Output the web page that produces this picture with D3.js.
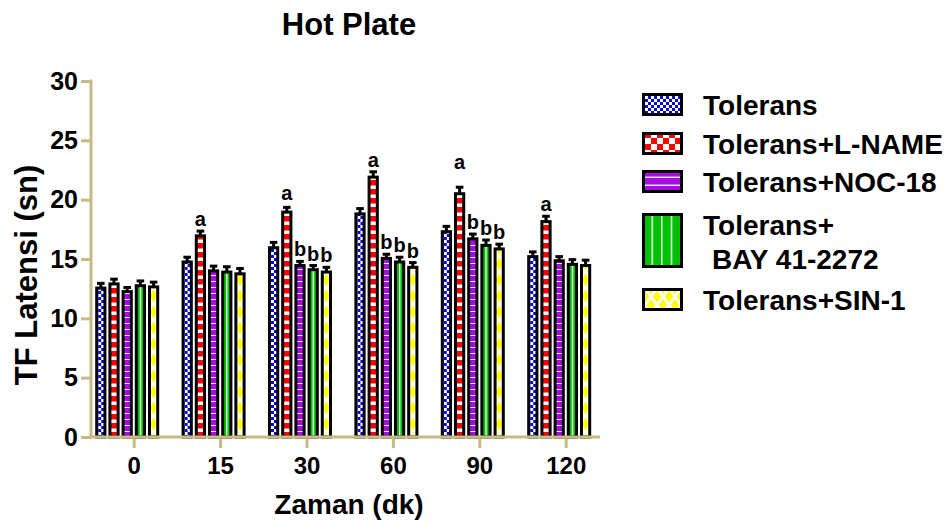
<!DOCTYPE html>
<html>
<head>
<meta charset="utf-8">
<script src="https://cdn.jsdelivr.net/npm/d3@7"></script>
<style>
  html, body { margin: 0; padding: 0; background: #ffffff; }
  svg { display: block; }
  text { font-family: "Liberation Sans", Arial, Helvetica, sans-serif; font-weight: bold; fill: #000; }
</style>
</head>
<body>
<svg id="chart" width="950" height="525"></svg>
<script>
// Time points (minutes) and group names
const timePoints = ["0", "15", "30", "60", "90", "120"];
const seriesNames = ["Tolerans", "Tolerans+L-NAME", "Tolerans+NOC-18", "Tolerans+\nBAY 41-2272", "Tolerans+SIN-1"];

// Tail-flick latency means (s) per group
const tolerans = [12.55, 14.75, 15.95, 18.8, 17.3, 15.2];
const lName    = [12.9, 16.95, 18.95, 21.9, 20.5, 18.15];
const noc18    = [12.25, 14.0, 14.45, 15.05, 16.7, 14.85];
const bay      = [12.75, 13.9, 14.1, 14.75, 16.15, 14.55];
const sin1     = [12.65, 13.75, 13.9, 14.3, 15.85, 14.45];

// Standard errors
const tolErr  = [0.4, 0.4, 0.45, 0.45, 0.45, 0.4];
const lnErr   = [0.4, 0.4, 0.4, 0.45, 0.55, 0.45];
const nocErr  = [0.35, 0.4, 0.35, 0.35, 0.4, 0.35];
const bayErr  = [0.4, 0.45, 0.35, 0.4, 0.45, 0.4];
const sinErr  = [0.4, 0.45, 0.4, 0.4, 0.4, 0.45];

const yTicks = [0, 5, 10, 15, 20, 25, 30];

// Significance marks: [time point, series index, letter]
const sigMarks = [
  ["15", 1, "a"],
  ["30", 1, "a"], ["30", 2, "b"], ["30", 3, "b"], ["30", 4, "b"],
  ["60", 1, "a"], ["60", 2, "b"], ["60", 3, "b"], ["60", 4, "b"],
  ["90", 1, "a"], ["90", 2, "b"], ["90", 3, "b"], ["90", 4, "b"],
  ["120", 1, "a"]
];

const values = [tolerans, lName, noc18, bay, sin1];
const errors = [tolErr, lnErr, nocErr, bayErr, sinErr];

const axisColor = "#c9ba84";
const svg = d3.select("#chart");

const y = d3.scaleLinear().domain([0, 30]).range([437, 81]);
const x0 = d3.scaleBand().domain(timePoints).range([91, 609.4]).padding(0);
const x1 = d3.scaleBand().domain(d3.range(seriesNames.length)).range([-39, 25]).paddingInner(0.15).paddingOuter(0);
const bw = x1.bandwidth();

// ---------- fill patterns ----------
const defs = svg.append("defs");
function pat(id, w, h, build, px) {
  const p = defs.append("pattern").attr("id", id).attr("patternUnits", "userSpaceOnUse")
    .attr("width", w).attr("height", h).attr("x", px || 0).attr("y", 0);
  build(p);
}
function checker(p, s, col) {
  p.append("rect").attr("width", 2 * s).attr("height", 2 * s).attr("fill", "#fff");
  p.append("rect").attr("width", s).attr("height", s).attr("fill", col);
  p.append("rect").attr("x", s).attr("y", s).attr("width", s).attr("height", s).attr("fill", col);
}
const blue = "#0a0ad8", red = "#ff0000", purple = "#a60ee0", green = "#00c000", yellow = "#ffff00";

// bar patterns (origin at each bar's left edge)
pat("barTol", 6, 6, p => checker(p, 3, blue));
pat("barLn", 20, 9, p => {
  p.append("rect").attr("width", 20).attr("height", 9).attr("fill", "#fff");
  p.append("rect").attr("width", 20).attr("height", 5.5).attr("fill", red);
});
pat("barNoc", 20, 6, p => {
  p.append("rect").attr("width", 20).attr("height", 6).attr("fill", purple);
  p.append("rect").attr("y", 5).attr("width", 20).attr("height", 1.1).attr("fill", "#fff");
});
pat("barBay", 40, 10, p => {
  p.append("rect").attr("width", 40).attr("height", 10).attr("fill", green);
  p.append("rect").attr("x", bw / 2 - 0.6).attr("width", 1.3).attr("height", 10).attr("fill", "#fff");
});
pat("barSin", 40, 16, p => {
  const c = bw / 2;
  p.append("rect").attr("width", 40).attr("height", 16).attr("fill", "#fff");
  p.append("path").attr("d", `M${c},1 L${c + 3.4},8 L${c},15 L${c - 3.4},8 Z`).attr("fill", yellow);
  p.append("path").attr("d", `M${c - 6},0 L${c - 2.2},0 L${c - 6},6 Z M${c + 6},0 L${c + 2.2},0 L${c + 6},6 Z M${c - 6},16 L${c - 2.2},16 L${c - 6},10 Z M${c + 6},16 L${c + 2.2},16 L${c + 6},10 Z`).attr("fill", yellow);
});

// legend patterns (origin at each swatch's left edge)
pat("legTol", 6, 6, p => checker(p, 3, blue), 3);
pat("legLn", 12, 12, p => checker(p, 6, red), 3);
pat("legNoc", 20, 8, p => {
  p.append("rect").attr("width", 20).attr("height", 8).attr("fill", purple);
  p.append("rect").attr("y", 6.6).attr("width", 20).attr("height", 1.3).attr("fill", "#fff");
});
pat("legBay", 9.6, 10, p => {
  p.append("rect").attr("width", 9.6).attr("height", 10).attr("fill", green);
  p.append("rect").attr("x", 0).attr("width", 1.4).attr("height", 10).attr("fill", "#fff");
}, 9.5);
pat("legSin", 12, 17, p => {
  p.append("rect").attr("width", 12).attr("height", 17).attr("fill", yellow);
  p.append("path").attr("d", "M0,0 L12,17 M12,0 L0,17").attr("stroke", "#fff").attr("stroke-width", 3);
}, 3);

const barFills = ["url(#barTol)", "url(#barLn)", "url(#barNoc)", "url(#barBay)", "url(#barSin)"];
const legFills = ["url(#legTol)", "url(#legLn)", "url(#legNoc)", "url(#legBay)", "url(#legSin)"];

// ---------- title ----------
svg.append("text").attr("x", 349).attr("y", 35).attr("text-anchor", "middle")
  .style("font-size", "31px").text("Hot Plate");

// ---------- axes ----------
const yAxis = svg.append("g").attr("transform", "translate(91,0)")
  .call(d3.axisLeft(y).tickValues(yTicks).tickSize(10).tickSizeOuter(0).tickPadding(3));
yAxis.select(".domain").remove();
yAxis.selectAll(".tick line").attr("stroke", axisColor).attr("stroke-width", 3);
yAxis.selectAll(".tick text").style("font-size", "25px").style("font-family", null).attr("fill", "#000");

const xAxis = svg.append("g").attr("transform", "translate(0,437)")
  .call(d3.axisBottom(x0).tickSize(11).tickSizeOuter(0).tickPadding(9));
xAxis.select(".domain").remove();
xAxis.selectAll(".tick line").attr("stroke", axisColor).attr("stroke-width", 3);
xAxis.selectAll(".tick text").style("font-size", "24px").style("font-family", null).attr("fill", "#000");

// ---------- bars ----------
const bars = [];
timePoints.forEach((t, gi) => {
  values.forEach((arr, si) => bars.push({ t, si, v: arr[gi], e: errors[si][gi] }));
});

const barG = svg.append("g").selectAll("g.bar").data(bars).join("g")
  .attr("class", "bar")
  .attr("transform", d => `translate(${x0(d.t) + x0.bandwidth() / 2 + x1(d.si)},0)`);

// error bars (drawn behind the bar outline)
barG.append("line")
  .attr("x1", bw / 2).attr("x2", bw / 2)
  .attr("y1", d => y(d.v)).attr("y2", d => y(d.v + d.e))
  .attr("stroke", "#000").attr("stroke-width", 3);
barG.append("line")
  .attr("x1", bw / 2 - 3.8).attr("x2", bw / 2 + 3.8)
  .attr("y1", d => y(d.v + d.e)).attr("y2", d => y(d.v + d.e))
  .attr("stroke", "#000").attr("stroke-width", 3);

barG.append("rect")
  .attr("x", 1.5).attr("width", bw - 3)
  .attr("y", d => y(d.v)).attr("height", d => y(0) - y(d.v))
  .attr("fill", d => barFills[d.si])
  .attr("stroke", "#000").attr("stroke-width", 3);

// axis lines on top of bar bases
svg.append("line").attr("x1", 91).attr("x2", 91).attr("y1", 79.5).attr("y2", 438.5)
  .attr("stroke", axisColor).attr("stroke-width", 3);
svg.append("line").attr("x1", 89.5).attr("x2", 600).attr("y1", 437).attr("y2", 437)
  .attr("stroke", axisColor).attr("stroke-width", 3);

// ---------- significance letters ----------
const extraLift = { "90a": 13, "30a": 2.5 };
svg.append("g").selectAll("text").data(sigMarks).join("text")
  .attr("text-anchor", "middle")
  .style("font-size", "20px")
  .attr("x", d => x0(d[0]) + x0.bandwidth() / 2 + x1(d[1]) + bw / 2)
  .attr("y", d => {
    const gi = timePoints.indexOf(d[0]);
    const top = values[d[1]][gi] + errors[d[1]][gi];
    return y(top) - 5 - (extraLift[d[0] + d[2]] || 0);
  })
  .text(d => d[2]);

// ---------- axis titles ----------
svg.append("text").attr("transform", "translate(37,275) rotate(-90)")
  .attr("text-anchor", "middle").style("font-size", "31px").text("TF Latensi (sn)");
svg.append("text").attr("x", 349).attr("y", 514).attr("text-anchor", "middle")
  .style("font-size", "28px").text("Zaman (dk)");

// ---------- legend ----------
const legTops = [93, 132, 170, 213, 288];
const legHeights = [23, 23, 23, 55, 23];
const leg = svg.append("g").selectAll("g").data(seriesNames).join("g")
  .attr("transform", (d, i) => `translate(642,${legTops[i]})`);
leg.append("rect").attr("x", 1.5).attr("y", 1.5).attr("width", 38)
  .attr("height", (d, i) => legHeights[i] - 3)
  .attr("fill", (d, i) => legFills[i]).attr("stroke", "#000").attr("stroke-width", 3);
leg.each(function (d) {
  const lines = d.split("\n");
  const t = d3.select(this).append("text").style("font-size", "28px");
  lines.forEach((ln, k) => {
    t.append("tspan").attr("x", k === 0 ? 61 : 70).attr("y", 21.5 + k * 34).text(ln);
  });
});
</script>
</body>
</html>
